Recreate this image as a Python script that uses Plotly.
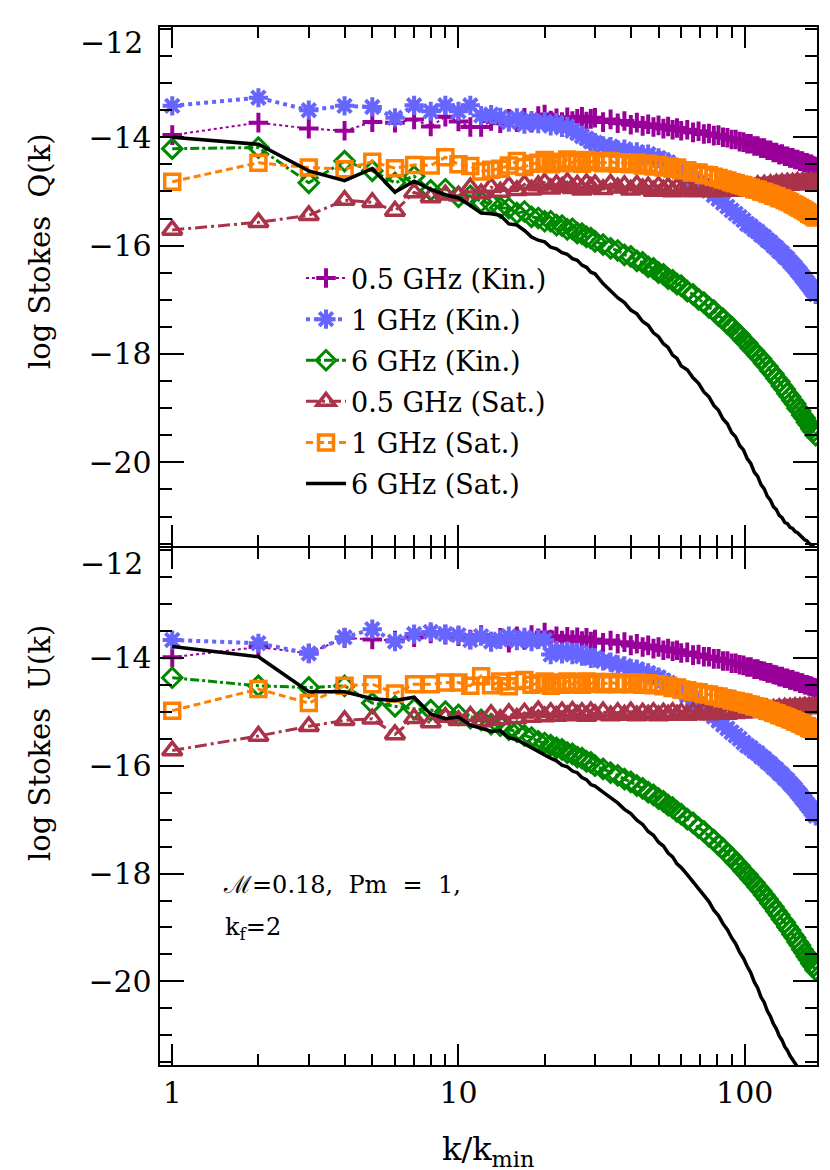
import plotly.graph_objects as go

# wavenumbers k/k_min shared by every curve
K = [1, 2, 3, 4, 5, 6, 7, 8, 9, 10, 11, 12, 13, 14, 15, 16, 17, 18, 19, 20,
     21, 22, 23, 24, 25, 26, 27, 28, 29, 30,
     32, 34, 36, 38, 40, 42, 44, 46, 48, 50, 52, 54, 56, 58, 60,
     63, 66, 69, 72, 75, 78, 81, 84, 87, 90, 93, 96, 99, 102,
     105, 108, 111, 114, 117, 120, 123, 126, 129, 132, 135, 138, 141, 144, 147, 150,
     153, 156, 159, 162, 165, 168, 171, 174, 177]

# ---- log Stokes Q(k) ----
Q_05_KIN = [-13.96, -13.73, -13.84, -13.88, -13.72, -13.73, -13.67, -13.80, -13.62, -13.71,
            -13.81, -13.81, -13.70, -13.74, -13.66, -13.72, -13.64, -13.73, -13.61, -13.58,
            -13.69, -13.65, -13.72, -13.63, -13.70, -13.66, -13.62, -13.71, -13.66, -13.64,
            -13.72, -13.67, -13.74, -13.70, -13.77, -13.73, -13.79, -13.76, -13.81, -13.78, -13.84, -13.80, -13.86, -13.83, -13.88,
            -13.86, -13.91, -13.89, -13.94, -13.93, -13.97, -13.96, -14.00, -14.01, -14.04, -14.04, -14.08, -14.09, -14.12,
            -14.12, -14.16, -14.16, -14.20, -14.20, -14.24, -14.24, -14.28, -14.28, -14.32, -14.31, -14.35, -14.35, -14.38, -14.38,
            -14.41, -14.41, -14.44, -14.44, -14.47, -14.47, -14.50, -14.50, -14.53, -14.54]
Q_1_KIN = [-13.42, -13.27, -13.50, -13.42, -13.44, -13.64, -13.41, -13.52, -13.41, -13.52,
           -13.41, -13.60, -13.58, -13.63, -13.72, -13.64, -13.76, -13.69, -13.75, -13.71,
           -13.79, -13.73, -13.82, -13.80, -13.88, -13.92, -13.98, -14.02, -14.08, -14.10,
           -14.16, -14.17, -14.23, -14.22, -14.28, -14.27, -14.32, -14.31, -14.37, -14.38, -14.43, -14.46, -14.52, -14.56, -14.62,
           -14.69, -14.77, -14.84, -14.92, -14.99, -15.07, -15.14, -15.21, -15.28, -15.35, -15.41, -15.47, -15.53, -15.60,
           -15.64, -15.70, -15.74, -15.80, -15.84, -15.90, -15.94, -16.00, -16.04, -16.10, -16.14, -16.20, -16.24, -16.30, -16.35,
           -16.40, -16.46, -16.51, -16.57, -16.62, -16.68, -16.73, -16.79, -16.84, -16.90]
Q_6_KIN = [-14.21, -14.19, -14.84, -14.44, -14.62, -14.84, -14.72, -14.98, -14.96, -15.10,
           -15.08, -15.19, -15.22, -15.30, -15.31, -15.40, -15.37, -15.47, -15.49, -15.55,
           -15.55, -15.62, -15.63, -15.70, -15.69, -15.77, -15.78, -15.84, -15.86, -15.92,
           -15.98, -16.05, -16.09, -16.17, -16.20, -16.28, -16.31, -16.39, -16.42, -16.50, -16.53, -16.61, -16.64, -16.71, -16.74,
           -16.84, -16.90, -16.99, -17.05, -17.14, -17.20, -17.29, -17.35, -17.44, -17.50, -17.59, -17.65, -17.74, -17.80,
           -17.89, -17.95, -18.03, -18.09, -18.17, -18.23, -18.31, -18.37, -18.45, -18.51, -18.59, -18.65, -18.73, -18.79, -18.86,
           -18.92, -19.00, -19.05, -19.13, -19.18, -19.26, -19.31, -19.38, -19.43, -19.50]
Q_05_SAT = [-15.71, -15.57, -15.44, -15.16, -15.20, -15.36, -15.02, -15.11, -15.06, -15.08,
            -14.93, -15.04, -14.92, -15.01, -14.90, -14.98, -14.87, -14.97, -14.89, -14.84,
            -14.95, -14.87, -14.92, -14.83, -14.94, -14.88, -14.97, -14.85, -14.92, -14.87,
            -14.96, -14.86, -14.93, -14.89, -14.97, -14.88, -14.95, -14.91, -14.99, -14.90, -14.97, -14.92, -15.00, -14.93, -14.98,
            -14.94, -15.00, -14.93, -14.99, -14.95, -15.00, -14.94, -14.98, -14.95, -14.99, -14.93, -14.97, -14.92, -14.96,
            -14.91, -14.94, -14.89, -14.93, -14.88, -14.92, -14.87, -14.90, -14.86, -14.89, -14.85, -14.89, -14.84, -14.88, -14.84,
            -14.87, -14.83, -14.87, -14.83, -14.86, -14.83, -14.86, -14.82, -14.86, -14.84]
Q_1_SAT = [-14.82, -14.47, -14.56, -14.59, -14.45, -14.57, -14.51, -14.52, -14.37, -14.50,
           -14.53, -14.63, -14.60, -14.58, -14.52, -14.44, -14.55, -14.49, -14.47, -14.42,
           -14.50, -14.45, -14.48, -14.41, -14.47, -14.43, -14.49, -14.42, -14.46, -14.44,
           -14.48, -14.44, -14.49, -14.46, -14.50, -14.47, -14.52, -14.49, -14.54, -14.51, -14.56, -14.54, -14.58, -14.56, -14.61,
           -14.61, -14.65, -14.65, -14.69, -14.70, -14.73, -14.75, -14.78, -14.80, -14.83, -14.85, -14.87, -14.89, -14.92,
           -14.93, -14.96, -14.97, -15.00, -15.01, -15.04, -15.05, -15.08, -15.09, -15.12, -15.13, -15.16, -15.18, -15.20, -15.23,
           -15.25, -15.28, -15.30, -15.33, -15.35, -15.38, -15.41, -15.43, -15.46, -15.48]
Q_6_SAT = [-14.00, -14.13, -14.62, -14.80, -14.58, -15.01, -14.81, -14.96, -15.06, -15.12,
           -15.26, -15.40, -15.41, -15.44, -15.60, -15.62, -15.72, -15.84, -15.90, -15.93,
           -16.03, -16.06, -16.13, -16.16, -16.24, -16.27, -16.36, -16.40, -16.49, -16.52,
           -16.70, -16.83, -16.96, -17.05, -17.19, -17.26, -17.40, -17.47, -17.61, -17.68, -17.81, -17.88, -18.02, -18.08, -18.22,
           -18.29, -18.44, -18.54, -18.70, -18.79, -18.95, -19.04, -19.20, -19.29, -19.45, -19.53, -19.69, -19.77, -19.93,
           -20.02, -20.18, -20.26, -20.41, -20.49, -20.63, -20.70, -20.82, -20.87, -20.98, -21.02, -21.11, -21.13, -21.20, -21.22,
           -21.28, -21.30, -21.35, -21.38, -21.43, -21.45, -21.50, -21.52, -21.57, -21.60]

# ---- log Stokes U(k) ----
U_05_KIN = [-13.99, -13.80, -13.92, -13.63, -13.66, -13.68, -13.62, -13.55, -13.57, -13.60,
            -13.66, -13.58, -13.70, -13.63, -13.72, -13.60, -13.67, -13.58, -13.64, -13.53,
            -13.66, -13.60, -13.68, -13.61, -13.67, -13.62, -13.69, -13.63, -13.70, -13.66,
            -13.72, -13.68, -13.74, -13.71, -13.77, -13.74, -13.80, -13.77, -13.83, -13.80, -13.86, -13.83, -13.88, -13.86, -13.91,
            -13.90, -13.95, -13.94, -13.98, -13.98, -14.02, -14.02, -14.06, -14.06, -14.10, -14.10, -14.13, -14.14, -14.17,
            -14.17, -14.21, -14.21, -14.24, -14.25, -14.28, -14.28, -14.31, -14.32, -14.35, -14.35, -14.38, -14.38, -14.41, -14.41,
            -14.44, -14.44, -14.47, -14.47, -14.50, -14.50, -14.52, -14.53, -14.55, -14.56]
U_1_KIN = [-13.67, -13.73, -13.92, -13.62, -13.47, -13.70, -13.56, -13.52, -13.56, -13.58,
           -13.67, -13.60, -13.70, -13.66, -13.60, -13.68, -13.62, -13.70, -13.66, -13.67,
           -13.94, -13.86, -13.93, -13.87, -13.94, -13.90, -13.97, -13.95, -14.01, -14.00,
           -14.06, -14.08, -14.13, -14.15, -14.20, -14.21, -14.26, -14.28, -14.33, -14.36, -14.42, -14.46, -14.52, -14.57, -14.62,
           -14.70, -14.78, -14.86, -14.94, -15.02, -15.09, -15.17, -15.24, -15.31, -15.38, -15.44, -15.50, -15.57, -15.63,
           -15.67, -15.73, -15.77, -15.83, -15.87, -15.93, -15.97, -16.03, -16.07, -16.13, -16.17, -16.23, -16.27, -16.33, -16.38,
           -16.43, -16.49, -16.54, -16.60, -16.65, -16.71, -16.76, -16.82, -16.87, -16.93]
U_6_KIN = [-14.37, -14.52, -14.55, -14.52, -14.84, -14.90, -14.95, -14.97, -15.00, -15.06,
           -15.12, -15.15, -15.23, -15.26, -15.33, -15.37, -15.44, -15.48, -15.55, -15.58,
           -15.62, -15.67, -15.70, -15.76, -15.78, -15.84, -15.86, -15.92, -15.94, -16.00,
           -16.06, -16.13, -16.18, -16.25, -16.30, -16.37, -16.42, -16.49, -16.54, -16.61, -16.66, -16.73, -16.78, -16.85, -16.90,
           -16.99, -17.06, -17.15, -17.22, -17.31, -17.38, -17.47, -17.54, -17.63, -17.70, -17.79, -17.86, -17.95, -18.02,
           -18.10, -18.17, -18.25, -18.32, -18.40, -18.47, -18.55, -18.62, -18.70, -18.77, -18.85, -18.91, -18.99, -19.05, -19.13,
           -19.19, -19.27, -19.33, -19.41, -19.47, -19.54, -19.60, -19.67, -19.72, -19.79]
U_05_SAT = [-15.72, -15.45, -15.27, -15.16, -15.13, -15.42, -15.12, -15.20, -15.10, -15.16,
            -15.08, -15.18, -15.05, -15.14, -15.03, -15.12, -15.02, -15.10, -14.98, -15.09,
            -15.01, -15.08, -15.00, -15.07, -14.99, -15.06, -15.01, -15.08, -15.00, -15.05,
            -15.00, -15.07, -15.01, -15.06, -15.00, -15.07, -15.02, -15.06, -15.01, -15.07, -15.02, -15.06, -15.01, -15.06, -15.02,
            -15.06, -15.01, -15.05, -15.00, -15.05, -15.00, -15.04, -14.99, -15.04, -14.99, -15.03, -14.98, -15.02, -14.98,
            -15.01, -14.97, -15.00, -14.96, -14.99, -14.95, -14.98, -14.95, -14.97, -14.94, -14.97, -14.93, -14.96, -14.93, -14.95,
            -14.92, -14.95, -14.92, -14.94, -14.91, -14.94, -14.91, -14.93, -14.91, -14.93]
U_1_SAT = [-14.98, -14.58, -14.84, -14.52, -14.49, -14.66, -14.49, -14.49, -14.46, -14.46,
           -14.52, -14.34, -14.51, -14.44, -14.53, -14.43, -14.41, -14.50, -14.47, -14.44,
           -14.52, -14.46, -14.50, -14.44, -14.49, -14.45, -14.50, -14.44, -14.48, -14.45,
           -14.49, -14.45, -14.49, -14.46, -14.49, -14.46, -14.50, -14.47, -14.51, -14.49, -14.53, -14.52, -14.56, -14.55, -14.59,
           -14.60, -14.63, -14.64, -14.67, -14.68, -14.71, -14.72, -14.75, -14.76, -14.79, -14.80, -14.82, -14.83, -14.86,
           -14.87, -14.90, -14.91, -14.94, -14.95, -14.98, -14.99, -15.02, -15.03, -15.06, -15.07, -15.10, -15.11, -15.14, -15.15,
           -15.18, -15.19, -15.22, -15.23, -15.26, -15.27, -15.30, -15.31, -15.33, -15.35]
U_6_SAT = [-13.79, -13.98, -14.63, -14.63, -14.76, -14.79, -14.73, -15.04, -15.13, -15.10,
           -15.25, -15.30, -15.36, -15.35, -15.48, -15.52, -15.60, -15.66, -15.74, -15.80,
           -15.86, -15.91, -15.99, -16.02, -16.10, -16.13, -16.22, -16.26, -16.35, -16.38,
           -16.49, -16.60, -16.69, -16.81, -16.89, -17.01, -17.09, -17.22, -17.29, -17.42, -17.49, -17.62, -17.69, -17.82, -17.89,
           -18.02, -18.16, -18.27, -18.42, -18.52, -18.68, -18.78, -18.93, -19.04, -19.19, -19.30, -19.46, -19.57, -19.72,
           -19.84, -20.01, -20.12, -20.29, -20.39, -20.55, -20.65, -20.79, -20.88, -21.01, -21.09, -21.21, -21.28, -21.38, -21.45,
           -21.54, -21.60, -21.68, -21.73, -21.80, -21.85, -21.91, -21.95, -22.00, -22.04]

LABELS = ['0.5 GHz (Kin.)', '1 GHz (Kin.)', '6 GHz (Kin.)',
          '0.5 GHz (Sat.)', '1 GHz (Sat.)', '6 GHz (Sat.)']
Q_SERIES = [Q_05_KIN, Q_1_KIN, Q_6_KIN, Q_05_SAT, Q_1_SAT, Q_6_SAT]
U_SERIES = [U_05_KIN, U_1_KIN, U_6_KIN, U_05_SAT, U_1_SAT, U_6_SAT]

# line / marker style per curve
styles = [
    dict(color='#990099', dash='dot', width=2, symbol='cross-thin-open', size=14, mlw=4),
    dict(color='#6666ff', dash='dot', width=4, symbol='asterisk-open', size=16, mlw=4),
    dict(color='#008800', dash='dashdot', width=3, symbol='diamond-open', size=15, mlw=3),
    dict(color='#aa3349', dash='12px,4px,3px,4px', width=3, symbol='triangle-up-open', size=17, mlw=3.5),
    dict(color='#ff8000', dash='7px,4px', width=3, symbol='square-open', size=15, mlw=3.5),
    dict(color='black', dash='solid', width=3.5, symbol=None, size=0, mlw=0),
]

SERIF = 'DejaVu Serif'
fig = go.Figure()

for panel, (series, ya) in enumerate([(Q_SERIES, 'y'), (U_SERIES, 'y2')]):
    for i, (vals, st) in enumerate(zip(series, styles)):
        has_marker = st['symbol'] is not None
        fig.add_trace(go.Scatter(
            x=K, y=vals,
            xaxis='x' if panel == 0 else 'x2', yaxis=ya,
            mode='lines+markers' if has_marker else 'lines',
            name=LABELS[i],
            legendgroup=LABELS[i],
            showlegend=panel == 0,
            line=dict(color=st['color'], dash=st['dash'], width=st['width']),
            marker=dict(symbol=st['symbol'], size=st['size'],
                        color=st['color'],
                        line=dict(color=st['color'], width=st['mlw'])) if has_marker else None,
        ))

W, H = 830, 1170
x0, x1 = 151.7 / W, 809 / W
ytop = 1 - 19.3 / H
ymid_top = 1 - 538.3 / H     # bottom edge of the Q panel
ymid_bot = 1 - 540.3 / H     # top edge of the U panel (axis lines meet)
ybot = 1 - 1057 / H

xaxis_common = dict(
    type='log', range=[-0.0438, 2.2526],
    domain=[x0, x1],
    showline=True, linewidth=2, linecolor='black', mirror='ticks',
    ticks='inside', ticklen=21, tickwidth=2, tickcolor='black',
    tickvals=[1, 10, 100], ticktext=['1', '10', '100'],
    minor=dict(ticks='inside', ticklen=11, tickwidth=2, tickcolor='black',
               tickvals=[2, 3, 4, 5, 6, 7, 8, 9, 20, 30, 40, 50, 60, 70, 80, 90]),
    showgrid=False, zeroline=False,
    tickfont=dict(family=SERIF, size=30, color='black'),
)
yaxis_common = dict(
    range=[-21.55, -11.97],
    showline=True, linewidth=2, linecolor='black', mirror='ticks',
    ticks='inside', ticklen=24, tickwidth=2, tickcolor='black',
    tickvals=[-20, -18, -16, -14], ticktext=['\u221220', '\u221218', '\u221216', '\u221214'],
    minor=dict(ticks='inside', ticklen=12, tickwidth=2, tickcolor='black', dtick=0.5),
    showgrid=False, zeroline=False,
    tickfont=dict(family=SERIF, size=30, color='black'),
)

fig.update_layout(
    width=W, height=H,
    margin=dict(l=0, r=0, t=0, b=0),
    paper_bgcolor='white', plot_bgcolor='white',
    font=dict(family=SERIF, color='black'),
    xaxis=dict(xaxis_common, anchor='y', showticklabels=False),
    yaxis=dict(yaxis_common, domain=[ymid_top, ytop], anchor='x'),
    xaxis2=dict(xaxis_common, anchor='y2', matches='x'),
    yaxis2=dict(yaxis_common, domain=[ybot, ymid_bot], anchor='x2'),
    legend=dict(
        x=293 / W, y=1 - 246 / H, xanchor='left', yanchor='top',
        bgcolor='rgba(0,0,0,0)', borderwidth=0,
        font=dict(family=SERIF, size=27, color='black'),
        tracegroupgap=3, itemwidth=40,
    ),
)

annotations = [
    # axis titles
    dict(text='log Stokes  Q(k)', x=32 / W, y=1 - 243 / H, textangle=-90),
    dict(text='log Stokes  U(k)', x=32 / W, y=1 - 735 / H, textangle=-90),
    dict(text='k/k<sub>min</sub>', x=(x0 + x1) / 2, y=1 - 1143 / H),
]
for a in annotations:
    a.update(xref='paper', yref='paper', showarrow=False,
             xanchor='center', yanchor='middle',
             font=dict(family=SERIF, size=29, color='black'))
annotations[2]['font'] = dict(family=SERIF, size=32, color='black')
fig.update_layout(annotations=annotations)

# the "-12" labels sit just below each panel's top edge
for ya in ['y', 'y2']:
    fig.add_annotation(text='\u221212', xref='paper', yref=ya, x=137 / W, y=-12,
                       xanchor='right', yanchor='top', yshift=6, showarrow=False,
                       font=dict(family=SERIF, size=30, color='black'))

fig.add_annotation(text='\u2133=0.18,  Pm  =  1,', xref='paper', yref='paper',
                   x=213 / W, y=1 - 877 / H, xanchor='left', yanchor='middle', showarrow=False,
                   font=dict(family=SERIF, size=24, color='black'))
fig.add_annotation(text='k<sub>f</sub>=2', xref='paper', yref='paper',
                   x=215 / W, y=1 - 920 / H, xanchor='left', yanchor='middle', showarrow=False,
                   font=dict(family=SERIF, size=24, color='black'))

fig.write_html('out.html')
